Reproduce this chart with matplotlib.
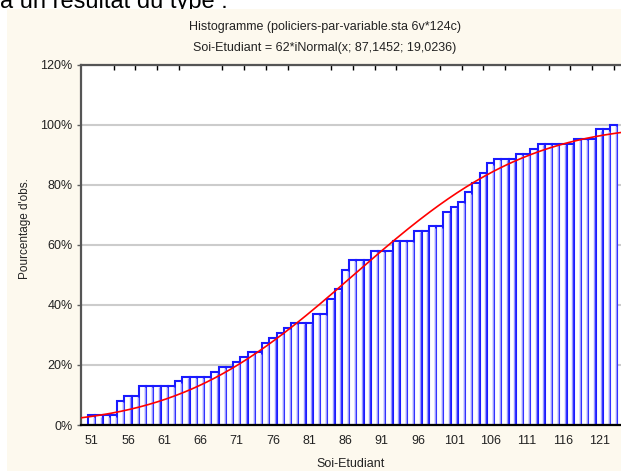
import numpy as np
import matplotlib.pyplot as plt
from matplotlib.patches import Rectangle
from math import erf, sqrt

plt.rcParams['font.family'] = ['Liberation Sans', 'DejaVu Sans']

# cumulative counts of Soi-Etudiant (62 observations)
values = np.arange(51, 124)
cum_counts = [2, 2, 2, 2, 5, 6, 6, 8, 8, 8, 8, 8, 9, 10, 10, 10, 10, 11, 12, 12,
              13, 14, 15, 15, 17, 18, 19, 20, 21, 21, 21, 23, 23, 26, 28, 32, 34, 34, 34, 36,
              36, 36, 38, 38, 38, 40, 40, 41, 41, 44, 45, 46, 48, 50, 52, 54, 55, 55, 55, 56,
              56, 57, 58, 58, 58, 58, 58, 59, 59, 59, 61, 61, 62]
n_obs = 62
mu = 87.1452
sigma = 19.0236

pct = 100 * np.array(cum_counts) / n_obs

W, H = 621, 471
fig = plt.figure(figsize=(W / 100, H / 100), dpi=100, facecolor='white')

cream = '#fdf9ee'
# text of the document above the chart (clipped like in the original)
fig.text(0 / W, 1 - 8 / H, "à un résultat du type :", fontsize=17, ha='left', va='baseline',
         color='black', zorder=-2)
fig.patches.append(Rectangle((7 / W, 0), 1 - 7 / W, 1 - 9 / H, transform=fig.transFigure,
                             facecolor=cream, edgecolor='none', zorder=-1))

left, right, top, bottom = 81, 621, 64.5, 425
ax = fig.add_axes([left / W, 1 - bottom / H, (right - left) / W, (bottom - top) / H])
ax.set_facecolor('white')

ax.bar(values, pct, width=1.0, facecolor='white', edgecolor='#1a1aff', linewidth=1.5, zorder=2)
# lighter inner shade on the right side of every bar
ax.vlines(values + 0.30, 0, pct - 0.4, color='#9a9aff', linewidth=1.0, zorder=2)

xs = np.linspace(49.5, 124.5, 300)
cdf = [100 * 0.5 * (1 + erf((x - mu) / (sigma * sqrt(2)))) for x in xs]
ax.plot(xs, cdf, color='#ff0000', linewidth=1.2, zorder=3)

ax.set_xlim(49.5, 124.0)
ax.set_ylim(0, 120)

ax.set_yticks(np.arange(0, 121, 20))
ax.set_yticklabels([f"{v}%" for v in range(0, 121, 20)])
ax.yaxis.grid(True, color='#cccccc', linewidth=1.5, zorder=0)
ax.set_axisbelow(True)

ax.set_xticks(np.arange(51, 122, 5))
ax.set_xticks(np.arange(51, 124, 3), minor=True)
ax.tick_params(axis='x', which='major', length=0, pad=7, labelsize=9, colors='#222222')
ax.tick_params(axis='x', which='minor', direction='in', length=3.5, width=1, top=True, bottom=True)
ax.tick_params(axis='y', which='major', direction='out', length=3, width=1, color='#606060',
               pad=3, labelsize=9, labelcolor='#222222')

for s in ['left', 'top']:
    ax.spines[s].set_color('#555555')
    ax.spines[s].set_linewidth(1.6)
ax.spines['bottom'].set_color('black')
ax.spines['bottom'].set_linewidth(1.6)
ax.spines['right'].set_visible(False)

fig.text(325 / W, 1 - 27 / H, "Histogramme (policiers-par-variable.sta 6v*124c)",
         ha='center', va='center', fontsize=9, color='#222222')
fig.text(325 / W, 1 - 48 / H, "Soi-Etudiant = 62*iNormal(x; 87,1452; 19,0236)",
         ha='center', va='center', fontsize=9, color='#222222')
fig.text(25 / W, 1 - 229 / H, "Pourcentage d'obs.", rotation=90, ha='center', va='center',
         fontsize=8.5, color='#222222')
fig.text(351 / W, 1 - 464 / H, "Soi-Etudiant", ha='center', va='center',
         fontsize=9, color='#222222')

fig.savefig('out.png', dpi=100)
